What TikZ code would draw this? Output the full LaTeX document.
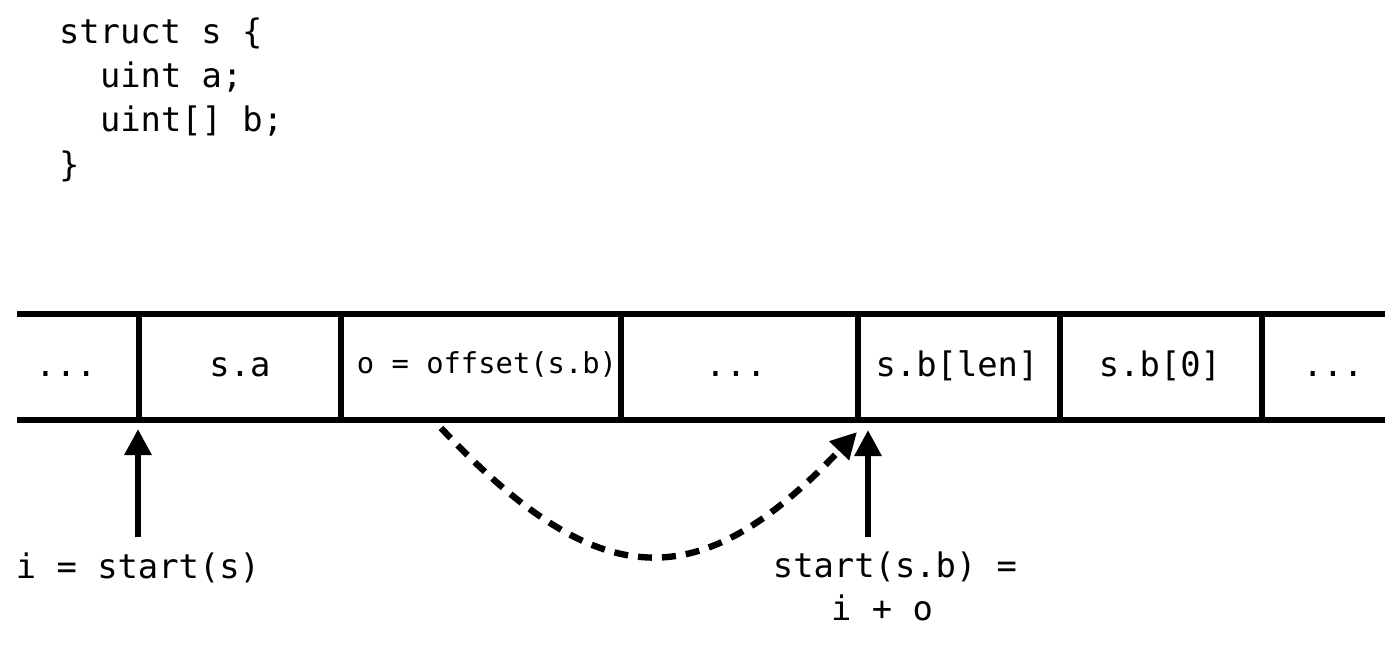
\documentclass[tikz,border=0pt]{standalone}
\usepackage{fontspec}
\setmonofont{DejaVu Sans Mono}
\usetikzlibrary{arrows.meta}
\begin{document}
\begin{tikzpicture}[x=0.5pt,y=-0.5pt,
  every node/.style={inner sep=0pt,outer sep=0pt},
  mono/.style={font=\fontsize{16.9}{20}\selectfont\ttfamily},
  small/.style={font=\fontsize{14.4}{17}\selectfont\ttfamily},
  rail/.style={line width=2.9pt},
  divider/.style={line width=2.6pt},
  ptr/.style={line width=3pt,-{Triangle[length=13pt,width=13pt]}},
  jump/.style={line width=3.2pt,dash pattern=on 7pt off 5pt,-{Triangle[length=13pt,width=13pt]}}]
\useasboundingbox (0,0) rectangle (1400,644);
\fill[white] (0,0) rectangle (1400,644);
% code
\node[mono,anchor=base west] (l1) at (59,43) {struct s \{};
\node[mono,anchor=base west] (l2) at (100,87) {uint a;};
\node[mono,anchor=base west] (l3) at (100,131) {uint[] b;};
\node[mono,anchor=base west] (l4) at (59,176) {\}};
% rails
\coordinate (TL) at (17,314); \coordinate (TR) at (1385,314);
\coordinate (BL) at (17,420); \coordinate (BR) at (1385,420);
\draw[rail] (TL) -- (TR);
\draw[rail] (BL) -- (BR);
\foreach \x/\n in {139/a,341/b,621/c,858/d,1060/e,1262/f}{
  \coordinate (dt\n) at (\x,314); \coordinate (db\n) at (\x,420);
  \draw[divider] (dt\n) -- (db\n);
}
% cells
\node[mono,anchor=base] (c0) at (66,376) {...};
\node[mono,anchor=base] (c1) at (240,376) {s.a};
\node[small,anchor=base] (c2) at (487,373) {o = offset(s.b)};
\node[mono,anchor=base] (c3) at (736,376) {...};
\node[mono,anchor=base] (c4) at (957,376) {s.b[len]};
\node[mono,anchor=base] (c5) at (1160,376) {s.b[0]};
\node[mono,anchor=base] (c6) at (1333,376) {...};
% labels
\node[mono,anchor=base] (i) at (138,578) {i = start(s)};
\node[mono,anchor=base] (sb) at (895,577) {start(s.b) =};
\node[mono,anchor=base] (io) at (882,620) {i + o};
% arrows
\coordinate (t1) at (138,429);
\coordinate (t2) at (868,430);
\draw[ptr,shorten <=7.5pt] (t1 |- i.north) -- (t1);
\draw[ptr,shorten <=7pt] (t2 |- sb.north) -- (t2);
\coordinate (d0) at (441,428);
\coordinate (d1) at (857,432);
\draw[jump] (d0) .. controls (600,597) and (700,597) .. (d1);
\end{tikzpicture}
\end{document}
